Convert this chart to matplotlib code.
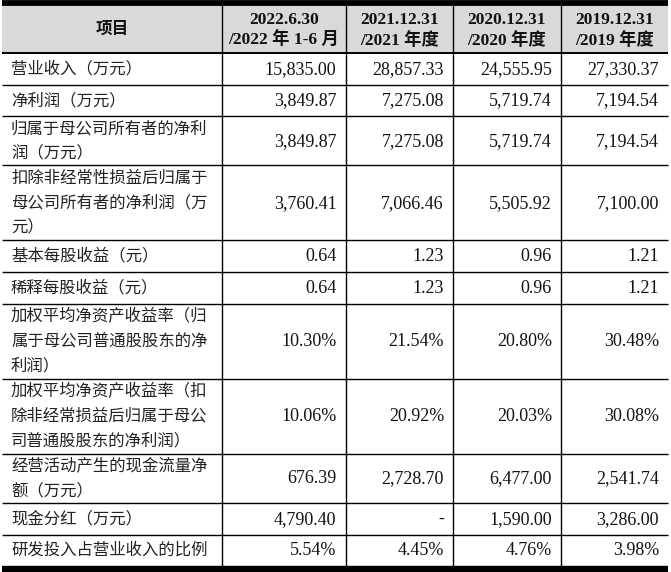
import matplotlib
matplotlib.use("Agg")
import matplotlib.pyplot as plt

# ---- data ----
header_item = "项目"
col_headers = ["2022.6.30\n/2022 年 1-6 月", "2021.12.31\n/2021 年度",
               "2020.12.31\n/2020 年度", "2019.12.31\n/2019 年度"]
row_labels = [
    "营业收入（万元）",
    "净利润（万元）",
    "归属于母公司所有者的净利润（万元）",
    "扣除非经常性损益后归属于母公司所有者的净利润（万元）",
    "基本每股收益（元）",
    "稀释每股收益（元）",
    "加权平均净资产收益率（归属于母公司普通股股东的净利润）",
    "加权平均净资产收益率（扣除非经常损益后归属于母公司普通股股东的净利润）",
    "经营活动产生的现金流量净额（万元）",
    "现金分红（万元）",
    "研发投入占营业收入的比例",
]
col_2022h1 = ["15,835.00", "3,849.87", "3,849.87", "3,760.41", "0.64", "0.64",
              "10.30%", "10.06%", "676.39", "4,790.40", "5.54%"]
col_2021 = ["28,857.33", "7,275.08", "7,275.08", "7,066.46", "1.23", "1.23",
            "21.54%", "20.92%", "2,728.70", "-", "4.45%"]
col_2020 = ["24,555.95", "5,719.74", "5,719.74", "5,505.92", "0.96", "0.96",
            "20.80%", "20.03%", "6,477.00", "1,590.00", "4.76%"]
col_2019 = ["27,330.37", "7,194.54", "7,194.54", "7,100.00", "1.21", "1.21",
            "30.48%", "30.08%", "2,541.74", "3,286.00", "3.98%"]
value_cols = [col_2022h1, col_2021, col_2020, col_2019]

# ---- layout ----
W, H = 671, 572
CHARS_PER_LINE = 12
col_edges = [2, 222, 345.5, 453, 561, 668]
top_y = 5.5
header_bottom = 53
row_h = {1: 31.7, 2: 49, 3: 75}
line_gap = 24.5

cjk = "Noto Sans CJK SC"
num_font = ["Liberation Serif", cjk]

fig = plt.figure(figsize=(W / 100, H / 100), dpi=100)
ax = fig.add_axes([0, 0, 1, 1])
ax.set_xlim(0, W)
ax.set_ylim(H, 0)
ax.axis("off")

def wrap(s, n):
    return [s[i:i + n] for i in range(0, len(s), n)]

# header background
ax.add_patch(plt.Rectangle((col_edges[0], top_y), col_edges[-1] - col_edges[0],
                           header_bottom - top_y, facecolor="#d9d9d9",
                           edgecolor="none", zorder=0))

# header text
ax.text((col_edges[0] + col_edges[1]) / 2, 28.5, header_item, ha="center",
        va="center", fontsize=12, family=cjk, weight="bold", color="#111")
for j, t in enumerate(col_headers):
    xc = (col_edges[j + 1] + col_edges[j + 2]) / 2
    l1, l2 = t.split("\n")
    ax.text(xc, 19.5, l1, ha="center", va="center", fontsize=12.5,
            family=num_font, weight="bold", color="#111")
    ax.text(xc, 40.5, l2, ha="center", va="center", fontsize=12.5,
            family=num_font, weight="bold", color="#111")

# rows
y = header_bottom
row_bounds = [y]
for i, lab in enumerate(row_labels):
    lines = wrap(lab, CHARS_PER_LINE)
    h = row_h[len(lines)]
    yc = y + h / 2
    n = len(lines)
    for k, ln in enumerate(lines):
        ly = yc + (k - (n - 1) / 2) * line_gap
        ax.text(11, ly, ln, ha="left", va="center", fontsize=11.8,
                family=cjk, color="#222")
    for j, col in enumerate(value_cols):
        xr = col_edges[j + 2] - 9
        ax.text(xr, yc + 0.5, col[i], ha="right", va="center", fontsize=13,
                family=num_font, color="#111")
    y += h
    row_bounds.append(y)

# horizontal lines
for k, yb in enumerate(row_bounds[:-1]):
    ax.plot([col_edges[0], col_edges[-1]], [yb, yb], color="black",
            lw=1.4 if k == 0 else 1.0, solid_capstyle="butt")
# thick top and bottom
ax.plot([col_edges[0], col_edges[-1]], [2.8, 2.8], color="black", lw=4.2,
        solid_capstyle="butt")
ax.plot([col_edges[0], col_edges[-1]], [row_bounds[-1] + 3.2, row_bounds[-1] + 3.2],
        color="black", lw=4.6, solid_capstyle="butt")

# vertical lines
for xv in col_edges[1:-1]:
    ax.plot([xv, xv], [top_y, row_bounds[-1]], color="black", lw=1.0)

fig.savefig("out.png", dpi=100, facecolor="white")
